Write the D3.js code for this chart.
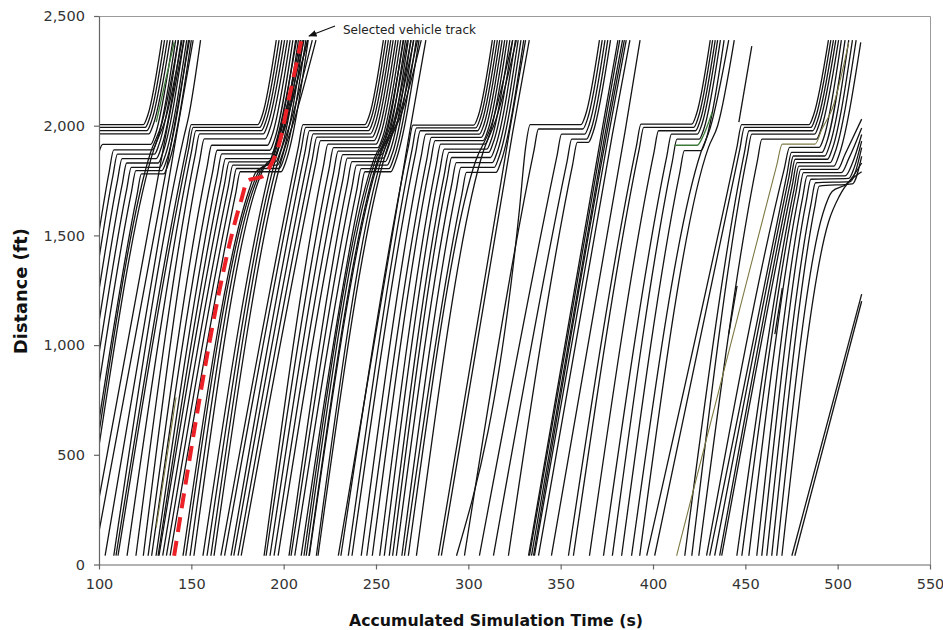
<!DOCTYPE html>
<html><head><meta charset="utf-8">
<script src="https://cdn.jsdelivr.net/npm/d3@7/dist/d3.min.js"></script>
<style>body{margin:0;background:#fff}svg{display:block}</style>
</head><body>
<svg id="chart" width="943" height="630"></svg>
<script>
// ---- tick labels ----
const xTicks = [100,150,200,250,300,350,400,450,500,550];
const yTicks = [0,500,1000,1500,2000,2500];

// ---- vehicle tracks: flat [time, distance, time, distance, ...] ----
const tracksCycle0 = [
 [100,2005, 124,2005, 126.5,2050, 134,2390],
 [100,1992, 125,1992, 127.5,2037, 135.5,2390],
 [100,1978, 126,1978, 128.5,2023, 137,2390],
 [100,1963, 127,1963, 129.5,2008, 138.5,2390],
 [100,1880, 102,1915, 128,1915, 130.5,1960, 140,2390],
 [100,1515, 105.5,1790, 108,1890, 129,1890, 131.5,1935, 141.5,2390],
 [100,1395, 107.5,1770, 110,1870, 130,1870, 132.5,1915, 143,2390],
 [100,1250, 110,1750, 112.5,1850, 131,1850, 133.5,1895, 144.5,2390],
 [100,1105, 112.5,1730, 115,1830, 132,1830, 134.5,1875, 146,2390],
 [100,960, 115,1710, 117.5,1810, 133,1810, 135.5,1855, 147.5,2390],
 [100,820, 117.5,1695, 120,1795, 134,1795, 136.5,1840, 148.5,2390],
 [100,655, 120.5,1680, 123,1780, 135,1780, 137.5,1825, 150,2390],
 [100,600, 128,1880, 134,2010, 143,2390],
 [100,540, 130,1900, 136,2030, 145,2390],
 [100,300, 136,1950, 146,2390],
 [100,150, 140,1960, 149,2390],
 [103.3,40, 142,1960, 151,2390],
 [108,40, 146,1950, 148.5,2040, 155,2390]
];
const tracksCycle1 = [
 [109.2,40, 147.5,1905, 150,2005, 186,2005, 188.5,2050, 196,2390],
 [110.3,40, 148.5,1892, 151,1992, 187,1992, 189.5,2037, 197.5,2390],
 [115.2,40, 150,1878, 152.5,1978, 188,1978, 190.5,2023, 199,2390],
 [120,40, 152,1863, 154.5,1963, 189,1963, 191.5,2008, 200.5,2390],
 [124,40, 154.5,1840, 157,1940, 190,1940, 192.5,1985, 202,2390],
 [126.6,40, 158.5,1811, 161,1911, 191.2,1911, 193.7,1956, 203.5,2390],
 [128.5,40, 161.5,1788, 164,1888, 192.4,1888, 194.9,1933, 205,2390],
 [130.9,40, 164,1772, 166.5,1872, 193.5,1872, 196,1917, 206.5,2390],
 [132,40, 166,1750, 168.5,1850, 194.6,1850, 197.1,1895, 208,2390],
 [132.5,40, 168,1735, 170.5,1835, 195.6,1835, 198.1,1880, 209.4,2390],
 [134.5,40, 170,1720, 172.5,1820, 196.6,1820, 199.1,1865, 210.7,2390],
 [136.5,40, 172,1705, 174.5,1805, 197.6,1805, 200.1,1850, 212,2390],
 [138.5,40, 174,1690, 176.5,1790, 198.6,1790, 201.1,1835, 213.3,2390],
 [145.5,40, 181,1700, 185,1790, 192,1830, 197,1960, 207,2390],
 [147,40, 182.5,1710, 187,1800, 193.5,1840, 198.5,1970, 209,2390],
 [149.3,40, 184,1720, 188,1800, 195,1850, 200,1990, 211,2390],
 [151.4,40, 186,1740, 190,1820, 196,1870, 201,2010, 213,2390],
 [156.3,40, 194,1850, 199,2000, 210.5,2390],
 [158.5,40, 196,1860, 201,2000, 213,2390],
 [160.6,40, 198,1870, 203.5,2010, 215.5,2390],
 [162.3,40, 200,1880, 205.5,2020, 217.5,2390]
];
const tracksCycle2 = [
 [166,40, 208,1905, 210.5,2005, 244,2005, 246.5,2050, 254,2390],
 [168,40, 209.5,1892, 212,1992, 245,1992, 247.5,2037, 255.3,2390],
 [171.5,40, 211.5,1878, 214,1978, 246,1978, 248.5,2023, 256.7,2390],
 [173,40, 213.5,1863, 216,1963, 247,1963, 249.5,2008, 258,2390],
 [175.3,40, 215.5,1848, 218,1948, 248,1948, 250.5,1993, 259.3,2390],
 [177,40, 217.5,1832, 220,1932, 249,1932, 251.5,1977, 260.7,2390],
 [189.4,40, 221.5,1816, 224,1916, 250,1916, 252.5,1961, 262,2390],
 [190.5,40, 224.5,1800, 227,1900, 251,1900, 253.5,1945, 263.4,2390],
 [192.6,40, 227,1784, 229.5,1884, 252,1884, 254.5,1929, 264.7,2390],
 [194.8,40, 229.5,1768, 232,1868, 253,1868, 255.5,1913, 266,2390],
 [197,40, 232,1752, 234.5,1852, 254,1852, 256.5,1897, 267.5,2390],
 [202.9,40, 234.5,1736, 237,1836, 255,1836, 257.5,1881, 268.9,2390],
 [204,40, 237,1720, 239.5,1820, 256,1820, 258.5,1865, 270.3,2390],
 [206,40, 239.5,1704, 242,1804, 257,1804, 259.5,1849, 271.8,2390],
 [209.5,40, 241.5,1690, 244,1790, 258,1790, 260.5,1835, 273.3,2390],
 [211,40, 249,1850, 255,1960, 265,2390],
 [212.2,40, 250,1850, 257,1980, 267,2390],
 [213.7,40, 252,1870, 259,2000, 269,2390],
 [213.9,40, 253,1880, 260,2010, 270.5,2390],
 [217.7,40, 255,1900, 262,2030, 272.5,2390],
 [218.6,40, 257,1920, 264,2060, 274.5,2390],
 [229.6,40, 268,1960, 277,2390]
];
const tracksCycle3 = [
 [231,40, 267.5,1903, 270,2003, 303,2003, 305.5,2048, 313,2390],
 [235,40, 269.5,1890, 272,1990, 304,1990, 306.5,2035, 314.3,2390],
 [237,40, 271.5,1877, 274,1977, 305,1977, 307.5,2022, 315.7,2390],
 [242,40, 274.5,1862, 277,1962, 306,1962, 308.5,2007, 317,2390],
 [245,40, 277.5,1847, 280,1947, 307,1947, 309.5,1992, 318.3,2390],
 [248,40, 279.5,1832, 282,1932, 308,1932, 310.5,1977, 319.7,2390],
 [252,40, 282.5,1816, 285,1916, 309,1916, 311.5,1961, 321,2390],
 [254.5,40, 284.5,1793, 287,1893, 310,1893, 312.5,1938, 322.5,2390],
 [257.2,40, 287,1778, 289.5,1878, 311,1878, 313.5,1923, 324,2390],
 [259,40, 288.5,1755, 291,1855, 312,1855, 314.5,1900, 325.5,2390],
 [261,40, 291,1732, 293.5,1832, 313,1832, 315.5,1877, 327,2390],
 [264,40, 293.5,1710, 296,1810, 314,1810, 316.5,1855, 328.5,2390],
 [265.4,40, 296.5,1687, 299,1787, 315,1787, 317.5,1832, 330,2390],
 [267.5,40, 304,1840, 312,1990, 324,2390],
 [271.9,40, 308,1880, 315,2030, 326,2390],
 [283.8,40, 322,1960, 331,2390],
 [285.4,40, 324,1970, 333,2390]
];
const tracksCycle4 = [
 [293.6,40, 327.7,1620, 331,1900, 333.5,2005, 361,2005, 363.5,2050, 371,2390],
 [297.9,40, 335.5,1885, 338,1985, 362,1985, 364.5,2030, 372.5,2390],
 [306,40, 348,1862, 350.5,1962, 363,1962, 365.5,2007, 374,2390],
 [313.6,40, 353.5,1839, 356,1939, 364,1939, 366.5,1984, 375.5,2390],
 [321.7,40, 356.5,1824, 359,1924, 365,1924, 367.5,1969, 377,2390],
 [332.6,40, 372,1960, 381,2390],
 [333.1,40, 373,1965, 382,2390],
 [334.2,40, 374,1960, 383.5,2390],
 [335.3,40, 375,1965, 384.5,2390],
 [335.8,40, 376,1960, 385.5,2390],
 [338,40, 378,1960, 387.5,2390],
 [345,40, 385,1980, 393,2390]
];
const tracksCycle5 = [
 [354.2,40, 391,1907, 393.5,2007, 421,2007, 423.5,2052, 431,2390],
 [356.9,40, 392.5,1892, 395,1992, 422,1992, 424.5,2037, 432.3,2390],
 [365.6,40, 400.5,1877, 403,1977, 423,1977, 425.5,2022, 433.7,2390],
 [373.2,40, 407.5,1862, 410,1962, 424,1962, 426.5,2007, 435,2390],
 [378,40, 410.5,1839, 413,1939, 425,1939, 427.5,1984, 436.5,2390],
 [383,40, 414.5,1786, 417,1886, 426,1886, 428.5,1931, 438.5,2390],
 [388.4,40, 426,1880, 431,1990, 441,2390],
 [392.8,40, 430,1900, 435,2000, 444,2390],
 [446.5,2016, 453.5,2363]
];
const tracksCycle6 = [
 [396.6,40, 445.5,1905, 448,2005, 484.5,2005, 487,2050, 495,2390],
 [400.9,40, 447,1892, 449.5,1992, 485.5,1992, 488,2037, 496.3,2390],
 [417.2,40, 449.5,1877, 452,1977, 486.5,1977, 489,2022, 497.7,2390],
 [421,40, 451,1862, 453.5,1962, 487.5,1962, 490,2007, 499,2390],
 [424.8,40, 456.5,1839, 459,1939, 488.5,1939, 491,1984, 500.5,2390],
 [429,40, 471,1801, 474,1901, 490,1901, 492.5,1946, 502,2390],
 [430.7,40, 472.5,1778, 475,1878, 491.5,1878, 494,1923, 504,2390],
 [433.4,40, 473.5,1762, 476,1862, 493,1862, 495.5,1907, 506,2390],
 [436.1,40, 474.5,1747, 477,1847, 494.5,1847, 497,1892, 508,2390],
 [437.2,40, 475.5,1732, 478,1832, 496,1832, 498.5,1877, 510,2390],
 [445.4,40, 476.5,1716, 479,1816, 498,1816, 500.5,1861, 512.5,2380],
 [448.1,40, 477.5,1701, 480,1801, 500,1801, 504,1870, 513,2030],
 [451.9,40, 479,1686, 481.5,1786, 502,1786, 506,1850, 513,1990],
 [456.2,40, 481,1671, 483.5,1771, 504,1771, 508,1830, 513,1960],
 [458.9,40, 483,1656, 485.5,1756, 506,1760, 509,1810, 513,1930],
 [461.6,40, 485.5,1640, 488,1740, 507,1745, 510,1800, 513,1900],
 [464.3,40, 487.5,1625, 490,1725, 508,1735, 513,1860],
 [467,40, 492,1600, 497,1700, 505,1735, 513,1830],
 [469.8,40, 495,1560, 501,1680, 513,1790],
 [475.2,40, 513,1232],
 [476.8,40, 513,1200],
 [441,1050, 445.5,1270],
 [466,1050, 470,1260]
];
const greenTracks = [
 [131,2016, 140.7,2381],
 [411.7,1911, 424,1911, 427,1950, 432,2060]
];
const oliveTracks = [
 [131,169, 141.7,762],
 [412.8,40, 449.7,1255, 467,1820, 470,1916, 487.7,1916, 491.5,1985, 497,2076, 506,2380]
];
const selectedTrack = [140.7,40, 177,1660, 180.5,1750, 189,1770, 193,1820, 197,1900, 203,2130, 209.5,2385];

// ---- drawing ----
const svg = d3.select("#chart");
const x = d3.scaleLinear().domain([100,550]).range([99,930]);
const y = d3.scaleLinear().domain([0,2500]).range([564.5,16]);
const FONT = "'DejaVu Sans', Verdana, sans-serif";

svg.append("defs").append("clipPath").attr("id","plotClip")
  .append("rect").attr("x",99).attr("y",16).attr("width",831).attr("height",548.5);

// frame (top/right)
svg.append("path").attr("d",`M99,16.5H930.5V564.5`).attr("fill","none").attr("stroke","#9a9a9a").attr("stroke-width",1);

const toPts = a => { const r=[]; for(let i=0;i<a.length;i+=2) r.push([a[i],a[i+1]]); return r; };
const line = d3.line().x(p=>x(p[0])).y(p=>y(p[1])).curve(d3.curveMonotoneX);
const g = svg.append("g").attr("clip-path","url(#plotClip)");

const allBlack = [].concat(tracksCycle0,tracksCycle1,tracksCycle2,tracksCycle3,tracksCycle4,tracksCycle5,tracksCycle6);
g.selectAll("path.trk").data(allBlack).join("path").attr("class","trk")
  .attr("d",a=>line(toPts(a))).attr("fill","none").attr("stroke","#141414").attr("stroke-width",1.3);
g.selectAll("path.grn").data(greenTracks).join("path").attr("class","grn")
  .attr("d",a=>line(toPts(a))).attr("fill","none").attr("stroke","#3d7a3a").attr("stroke-width",1.3);
g.selectAll("path.olv").data(oliveTracks).join("path").attr("class","olv")
  .attr("d",a=>line(toPts(a))).attr("fill","none").attr("stroke","#7d7a45").attr("stroke-width",1.1);
g.append("path").attr("d",line(toPts(selectedTrack))).attr("fill","none")
  .attr("stroke","#ec2127").attr("stroke-width",4).attr("stroke-dasharray","15,9");

// axes
const yAxis = d3.axisLeft(y).tickValues(yTicks).tickFormat(d3.format(",")).tickSize(5).tickPadding(9).tickSizeOuter(0);
const xAxis = d3.axisBottom(x).tickValues(xTicks).tickFormat(d3.format("d")).tickSize(5).tickPadding(9).tickSizeOuter(0);
const ya = svg.append("g").attr("transform","translate(99,0)").call(yAxis);
const xa = svg.append("g").attr("transform","translate(0,564.5)").call(xAxis);
[ya,xa].forEach(a=>{
  a.select(".domain").attr("stroke","#666").attr("stroke-width",1.2);
  a.selectAll(".tick line").attr("stroke","#666").attr("stroke-width",1.2);
  a.selectAll(".tick text").attr("fill","#333").style("font-family",FONT).style("font-size","14.5px");
});

// axis titles
function fitText(sel, target){
  const n = sel.node(); const w = n.getComputedTextLength();
  const fs = parseFloat(sel.style("font-size"));
  sel.style("font-size", (fs*target/w).toFixed(2)+"px");
}
const xt = svg.append("text").attr("x",496).attr("y",626).attr("text-anchor","middle")
  .style("font-family",FONT).style("font-weight","bold").style("font-size","16px").attr("fill","#111")
  .text("Accumulated Simulation Time (s)");
fitText(xt,294);
const yt = svg.append("text").attr("transform","translate(27,291) rotate(-90)").attr("text-anchor","middle")
  .style("font-family",FONT).style("font-weight","bold").style("font-size","16px").attr("fill","#111")
  .text("Distance (ft)");
fitText(yt,126);

// annotation
svg.append("defs").append("marker").attr("id","arr").attr("viewBox","0 0 10 10").attr("refX",9).attr("refY",5)
  .attr("markerWidth",7).attr("markerHeight",7).attr("orient","auto")
  .append("path").attr("d","M0,1L10,5L0,9z").attr("fill","#111");
svg.append("line").attr("x1",335).attr("y1",26).attr("x2",309).attr("y2",36)
  .attr("stroke","#111").attr("stroke-width",1.2).attr("marker-end","url(#arr)");
svg.append("text").attr("x",343).attr("y",34).style("font-family",FONT).style("font-size","12px").attr("fill","#222")
  .text("Selected vehicle track");
</script>
</body></html>
